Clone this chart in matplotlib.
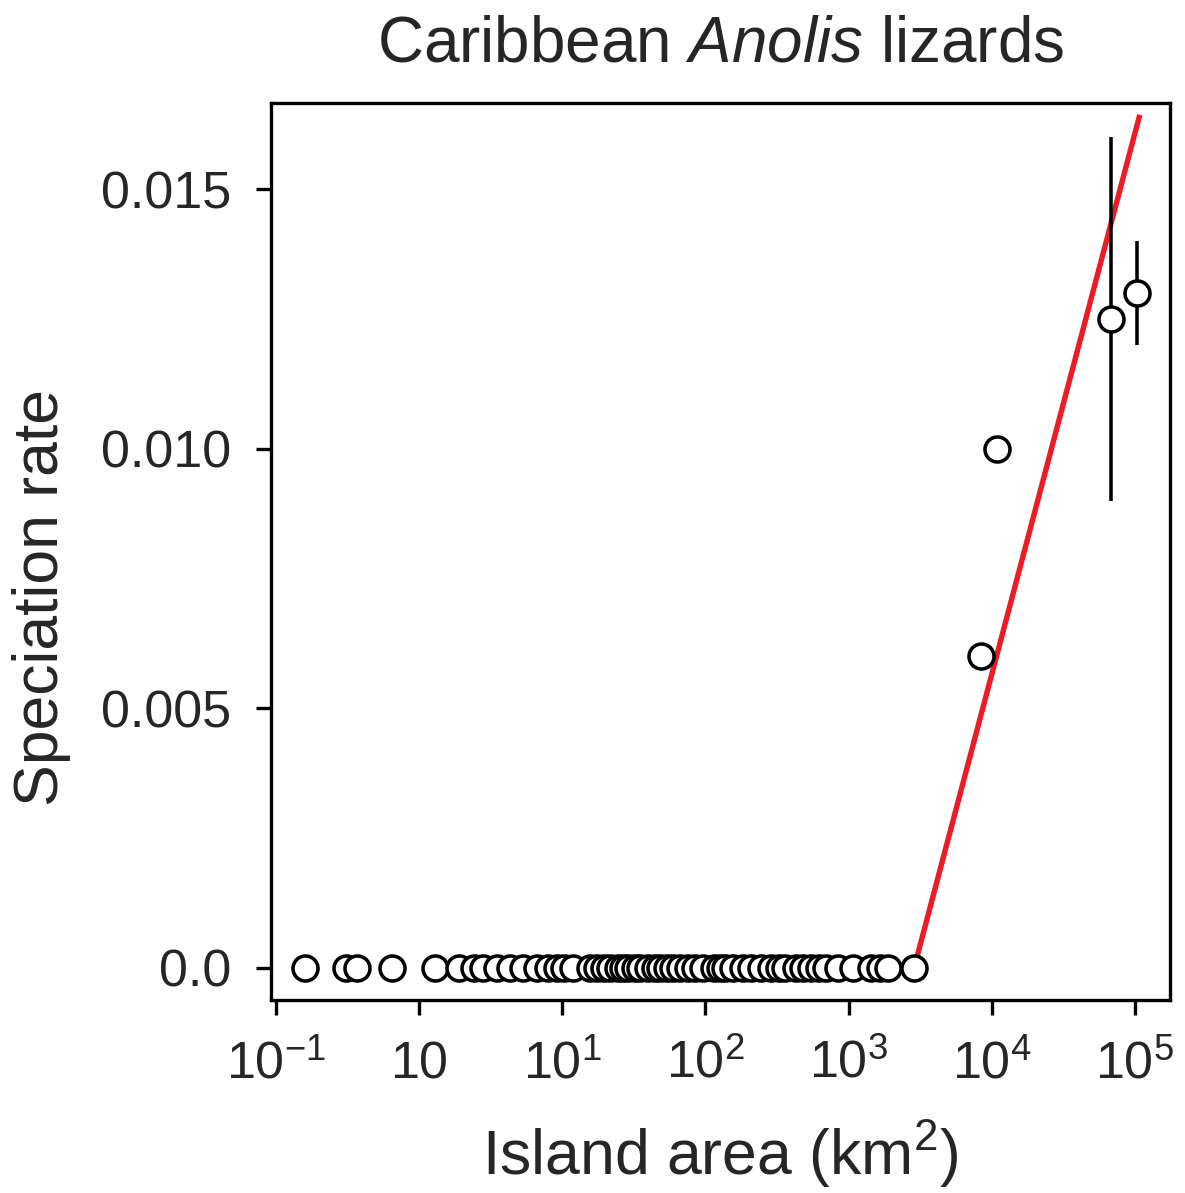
import matplotlib
matplotlib.use("Agg")
import matplotlib.pyplot as plt
import numpy as np

plt.rcParams['font.family'] = ['Liberation Sans', 'DejaVu Sans']
plt.rcParams['mathtext.fontset'] = 'custom'
plt.rcParams['mathtext.rm'] = 'Liberation Sans'
plt.rcParams['mathtext.it'] = 'Liberation Sans:italic'

# islands with no in situ speciation (rate = 0), area in km^2
zero_area = [0.16, 0.31, 0.37, 0.65, 1.3, 1.9, 2.4, 2.8, 3.5, 4.3, 5.3, 6.7, 7.9,
             9.2, 10.2, 11.9, 15.7, 17.6, 19.4, 21.7, 24.3, 26.7, 29, 32.4, 35,
             40, 44.7, 48.4, 54.2, 59.7, 66.8, 76, 85, 96.8, 114, 127, 138, 157,
             182, 207, 243, 285, 324, 362, 426, 484, 542, 617, 690, 838, 1080,
             1430, 1670, 1900, 2850]

# islands with speciation
big_area = [8400, 10800, 68000, 103000]
big_rate = [0.006, 0.010, 0.0125, 0.013]
big_err = [0.0, 0.0, 0.0035, 0.001]

# fitted line: rate = a + b*log10(area)
fit_a = -0.03604
fit_b = 0.010423
fit_range = [3000, 107000]

tick_pos = [0.1, 1, 10, 100, 1000, 10000, 100000]
tick_lab = ['$10^{-1}$', '$10$', '$10^{1}$', '$10^{2}$', '$10^{3}$', '$10^{4}$', '$10^{5}$']

fig = plt.figure(figsize=(1185 / 300, 1193 / 300), dpi=300)
ax = fig.add_axes([0.2287, 0.1618, 0.9873 - 0.2287, 0.9137 - 0.1618])

fx = np.array(fit_range)
ax.plot(fx, fit_a + fit_b * np.log10(fx), color='#ed1c24', lw=1.3, zorder=2)

ax.plot(zero_area, np.zeros(len(zero_area)), 'o', ms=6, mfc='white', mec='black', mew=0.85,
        zorder=3)
ax.errorbar(big_area, big_rate, yerr=big_err, fmt='o', ms=6, mfc='white', mec='black',
            mew=0.85, ecolor='black', elinewidth=0.85, capsize=0, zorder=3)

ax.set_xscale('log')
ax.set_xlim(10 ** -1.035, 10 ** 5.245)
ax.set_ylim(-0.00062, 0.01666)
ax.xaxis.set_major_locator(matplotlib.ticker.FixedLocator(tick_pos))
ax.xaxis.set_major_formatter(matplotlib.ticker.FixedFormatter(tick_lab))
ax.xaxis.set_minor_locator(matplotlib.ticker.NullLocator())
ax.set_yticks([0.0, 0.005, 0.010, 0.015])
ax.set_yticklabels(['0.0', '0.005', '0.010', '0.015'])

for s in ax.spines.values():
    s.set_linewidth(0.8)
ax.tick_params(length=3.5, width=0.8, labelsize=12.5, labelcolor='#262626', pad=6)

ax.set_xlabel('Island area (km$^2$)', fontsize=15, color='#262626', labelpad=7)
ax.set_ylabel('Speciation rate', fontsize=15, color='#262626')
ax.yaxis.set_label_coords(-0.222, 0.449)
ax.set_title('Caribbean $\\it{Anolis}$ lizards', fontsize=15.3, color='#262626', pad=10)

fig.savefig('out.png', dpi=300)
plt.close('all')
